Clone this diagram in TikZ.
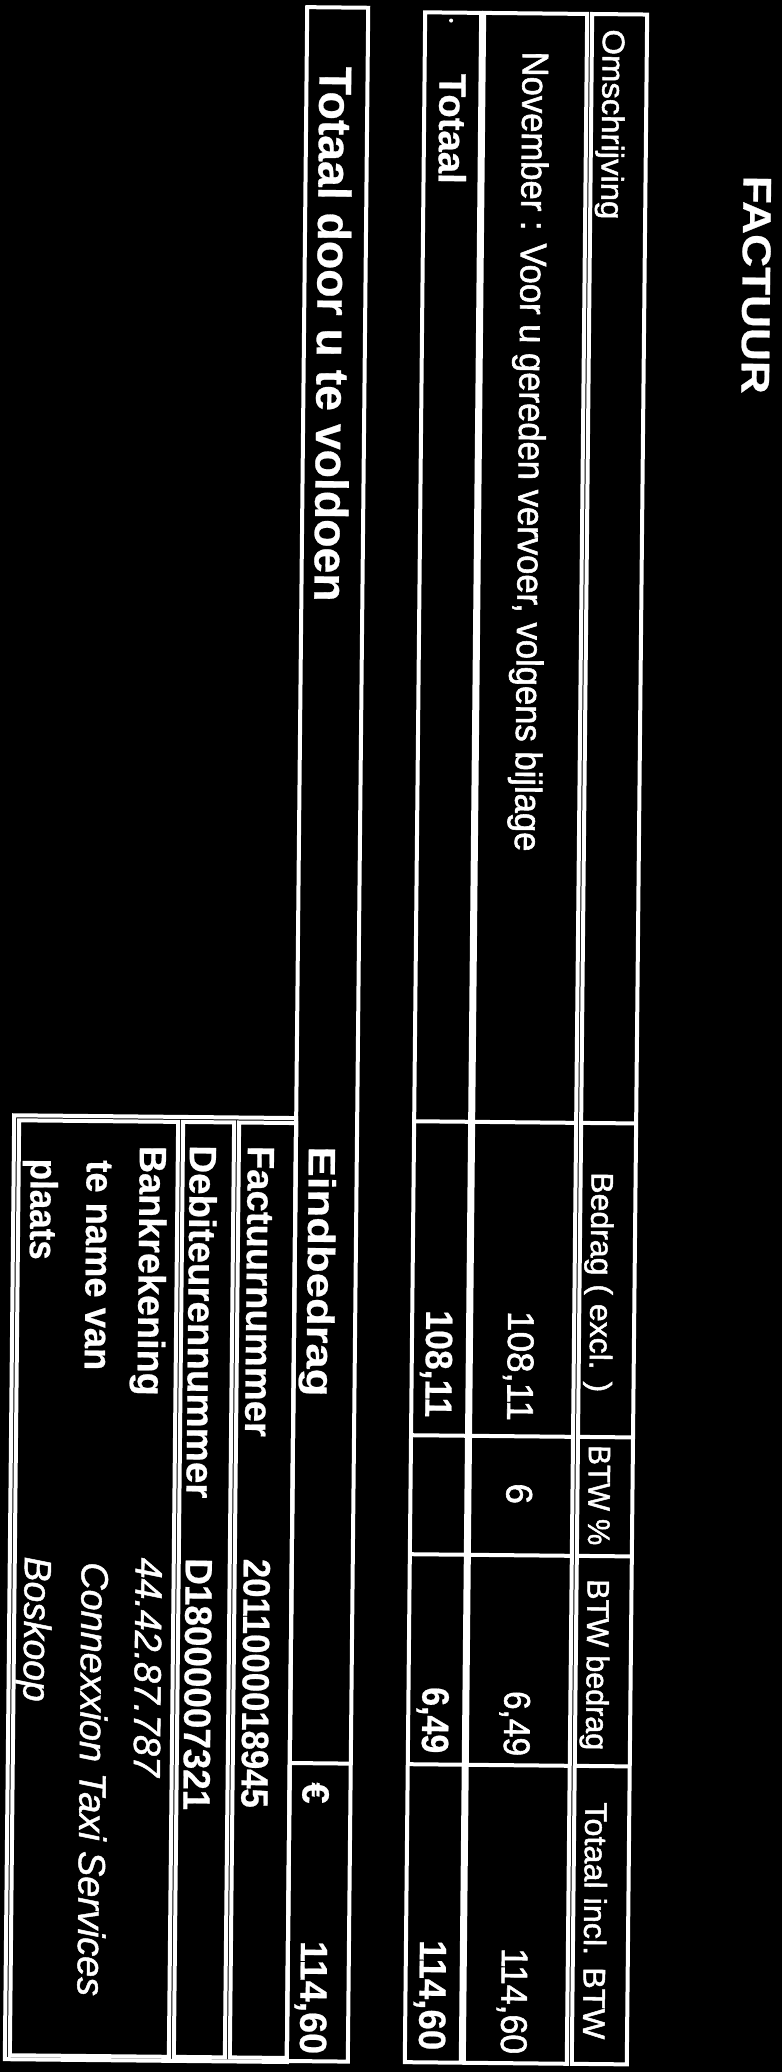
\documentclass[tikz,border=0pt]{standalone}
\usepackage{fontspec}
\setmainfont{Liberation Sans}[UprightFeatures={FakeBold=1.6},ItalicFeatures={FakeBold=1.2},BoldFeatures={FakeBold=0.6}]
\usepackage{graphicx}
\newcommand{\rek}[2]{\resizebox{#1pt}{\height}{#2}}

\begin{document}
\begin{tikzpicture}[x=1pt,y=-1pt]
\tikzstyle{cel}=[draw=white,line width=4pt]
\tikzstyle{tekst}=[text=white,inner sep=0pt,rotate=-90,anchor=base west]
\tikzstyle{cijfer}=[text=white,inner sep=0pt,rotate=-90,anchor=base east]
\tikzstyle{klein}=[font=\fontsize{31}{31}\selectfont]
\tikzstyle{normaal}=[font=\fontsize{37}{37}\selectfont]
\tikzstyle{vet}=[font=\bfseries\fontsize{38}{38}\selectfont]
\tikzstyle{groot}=[font=\bfseries\fontsize{46}{46}\selectfont]
\tikzstyle{schuin}=[font=\itshape\fontsize{38}{38}\selectfont]

\fill[black] (0,0) rectangle (782,2072);
\useasboundingbox (0,0) rectangle (782,2072);

\begin{scope}[rotate around={-0.57:(391,1036)},transform shape]

\node[tekst,font=\bfseries\fontsize{40}{40}\selectfont] (titel) at (735,172) {\rek{218}{FACTUUR}};

% tabel
\draw[cel] (582,12) rectangle (637,2062);
\draw[cel] (474,12) rectangle (577,2062);
\draw[cel] (415,12) rectangle (471,2062);
\draw[cel] (415,1121) -- (471,1121) (474,1121) -- (577,1121) (582,1121) -- (637,1121);
\draw[cel] (415,1435) -- (471,1435) (474,1435) -- (577,1435) (582,1435) -- (637,1435);
\draw[cel] (415,1554) -- (471,1554) (474,1554) -- (577,1554) (582,1554) -- (637,1554);
\draw[cel] (415,1764) -- (471,1764) (474,1764) -- (577,1764) (582,1764) -- (637,1764);

\node[tekst,klein] (omschrijving) at (593,27) {\rek{190}{Omschrijving}};
\node[tekst,klein] (excl) at (593,1170) {\rek{220}{Bedrag ( excl. )}};
\node[tekst,klein] (btwpct) at (593,1443) {\rek{100}{BTW \%}};
\node[tekst,klein] (btwbedrag) at (593,1577) {\rek{171}{BTW bedrag}};
\node[tekst,klein] (inclbtw) at (593,1800) {\rek{237}{Totaal incl. BTW}};

\node[tekst,normaal] (regel) at (513,50) {\rek{800}{November : Voor u gereden vervoer, volgens bijlage}};
\node[cijfer,normaal] (regelexcl) at (511,1420) {\rek{110}{108,11}};
\node[tekst,normaal] (regelpct) at (511,1482) {6};
\node[cijfer,normaal] (regelbtw) at (511,1755) {\rek{65}{6,49}};
\node[cijfer,normaal] (regelincl) at (511,2053) {\rek{106}{114,60}};

\node[circle,fill=white,inner sep=0pt,minimum size=4pt] (punt) at (441,20) {};
\node[tekst,vet] (totaal) at (430,73) {\rek{110}{Totaal}};
\node[cijfer,vet] (totaalexcl) at (429,1417) {\rek{107}{108,11}};
\node[cijfer,vet] (totaalbtw) at (429,1753) {\rek{66}{6,49}};
\node[cijfer,vet] (totaalincl) at (429,2050) {\rek{110}{114,60}};

% te voldoen
\draw[cel] (297,8) rectangle (358,2062);
\draw[cel] (297,1764) -- (358,1764);

\node[tekst,groot] (tevoldoen) at (310,67) {\rek{535}{Totaal door u te voldoen}};
\node[tekst,vet] (eindbedrag) at (310,1147) {\rek{250}{Eindbedrag}};
\node[tekst,vet] (euro) at (310,1783) {€};
\node[cijfer,vet] (eindtotaal) at (310,2055) {\rek{113}{114,60}};

% gegevens
\draw[cel] (15,1119) rectangle (297,2063);
\draw[cel] (240,1124) rectangle (297,2059);
\draw[cel] (184,1124) rectangle (235,2059);
\draw[cel] (20,1124) rectangle (179,2059);

\node[tekst,vet] (factuurnr) at (249,1147) {\rek{291}{Factuurnummer}};
\node[tekst,vet] (debiteurnr) at (191,1147) {\rek{353}{Debiteurennummer}};
\node[tekst,vet] (bank) at (141,1148) {\rek{250}{Bankrekening}};
\node[tekst,vet] (tenamevan) at (88,1163) {\rek{210}{te name van}};
\node[tekst,vet] (plaats) at (32,1162) {\rek{101}{plaats}};
\node[tekst,vet] (factuurwaarde) at (249,1560) {\rek{249}{2011000018945}};
\node[tekst,vet] (debiteurwaarde) at (191,1560) {\rek{252}{D18000007321}};
\node[tekst,schuin] (bankwaarde) at (141,1560) {\rek{219}{44.42.87.787}};
\node[tekst,schuin] (naamwaarde) at (87,1565) {\rek{434}{Connexxion Taxi Services}};
\node[tekst,schuin] (plaatswaarde) at (30,1560) {\rek{145}{Boskoop}};

\end{scope}
\end{tikzpicture}
\end{document}
